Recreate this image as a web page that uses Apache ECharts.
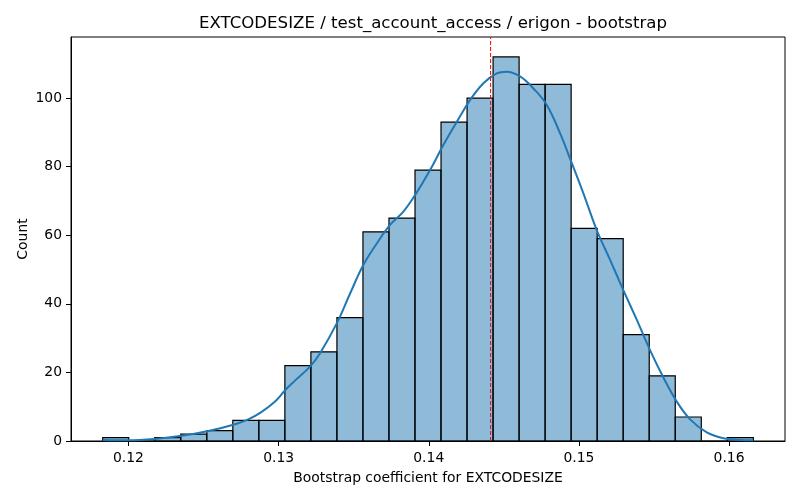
<!DOCTYPE html>
<html>
<head>
<meta charset="utf-8">
<script src="https://cdn.jsdelivr.net/npm/echarts@6/dist/echarts.min.js"></script>
<style>
  html, body { margin: 0; padding: 0; background: #fff; }
  #chart { width: 800px; height: 500px; }
</style>
</head>
<body>
<div id="chart"></div>
<script>
// histogram bins
var binStart = 0.118281;
var binWidth = 0.0017336;
var binCounts = [1, 0, 1, 2, 3, 6, 6, 22, 26, 36, 61, 65, 79, 93, 100, 112, 104, 104, 62, 59, 31, 19, 7, 0, 1];

// kde curve samples
var kdeX = [0.11828, 0.11997, 0.12177, 0.12354, 0.12532, 0.12710, 0.12798, 0.12887, 0.12976, 0.13043,
            0.13109, 0.13209, 0.13276, 0.13387, 0.13476, 0.13564, 0.13654, 0.13742, 0.13831, 0.13909,
            0.14009, 0.14097, 0.14187, 0.14275, 0.14364, 0.14453, 0.14520, 0.14608, 0.14697, 0.14786,
            0.14875, 0.14953, 0.15030, 0.15119, 0.15208, 0.15296, 0.15386, 0.15474, 0.15563, 0.15652,
            0.15741, 0.15852, 0.15963, 0.16074, 0.16162];
var kdeY = [0.3, 0.2, 0.6, 1.5, 2.9, 4.9, 6.3, 8.5, 11.5, 14.8,
            17.6, 21.7, 25.6, 34.3, 43, 51.3, 57.6, 63, 66.9, 71.7,
            79, 86.3, 93.1, 99.4, 104.3, 107.2, 107.7, 106.3, 102.8, 98,
            89.7, 81, 72.2, 61.5, 52.8, 44, 35.3, 26.5, 18.5, 11.5,
            6.3, 2.5, 0.8, 0.3, 0.2];

// bootstrap point estimate (red dashed line)
var meanValue = 0.14412;
var xTicks = [0.12, 0.13, 0.14, 0.15, 0.16];
var yTicks = [0, 20, 40, 60, 80, 100];
var yMax = 117.8;

var font = 'DejaVu Sans';

var histData = [];
for (var i = 0; i < binCounts.length; i++) {
	var x0 = binStart + i * binWidth;
	histData.push([x0, x0 + binWidth, binCounts[i]]);
}
var kdeData = [];
for (var j = 0; j < kdeX.length; j++) {
	kdeData.push([kdeX[j], kdeY[j]]);
}

var chart = echarts.init(document.getElementById('chart'));
chart.setOption({
	animation: false,
	title: {
		text: 'EXTCODESIZE / test_account_access / erigon - bootstrap',
		left: 428,
		textAlign: 'center',
		top: 10,
		textStyle: { fontFamily: font, fontSize: 16.6, fontWeight: 'normal', color: '#000' }
	},
	grid: {
		left: 71, right: 15, top: 37, bottom: 59,
		show: true, borderColor: '#000', borderWidth: 1
	},
	xAxis: {
		type: 'value',
		min: 0.11617,
		max: 0.16373,
		name: 'Bootstrap coefficient for EXTCODESIZE',
		nameLocation: 'middle',
		nameGap: 30,
		nameMoveOverlap: false,
		nameTextStyle: { fontFamily: font, fontSize: 13.9, color: '#000' },
		splitLine: { show: false },
		axisLine: { show: true, lineStyle: { color: '#000', width: 1 } },
		axisTick: { show: true, length: 5, customValues: xTicks, lineStyle: { color: '#000' } },
		axisLabel: {
			customValues: xTicks,
			margin: 10,
			fontFamily: font, fontSize: 13.9, color: '#000',
			formatter: function (v) { return String(+v.toFixed(2)); }
		}
	},
	yAxis: {
		type: 'value',
		min: 0,
		max: yMax,
		name: 'Count',
		nameLocation: 'middle',
		nameGap: 41,
		nameMoveOverlap: false,
		nameTextStyle: { fontFamily: font, fontSize: 13.9, color: '#000' },
		splitLine: { show: false },
		axisLine: { show: true, lineStyle: { color: '#000', width: 1 } },
		axisTick: { show: true, length: 5, customValues: yTicks, lineStyle: { color: '#000' } },
		axisLabel: {
			customValues: yTicks,
			margin: 9,
			fontFamily: font, fontSize: 13.9, color: '#000'
		}
	},
	series: [
		{
			type: 'custom',
			data: histData,
			renderItem: function (params, api) {
				var p0 = api.coord([api.value(0), 0]);
				var p1 = api.coord([api.value(1), api.value(2)]);
				return {
					type: 'rect',
					shape: { x: p0[0], y: p1[1], width: p1[0] - p0[0], height: p0[1] - p1[1] },
					style: { fill: 'rgba(31,119,180,0.5)', stroke: '#000', lineWidth: 1.2 }
				};
			},
			encode: { x: [0, 1], y: 2 },
			z: 2
		},
		{
			type: 'line',
			data: kdeData,
			smooth: 0.4,
			showSymbol: false,
			lineStyle: { color: '#1f77b4', width: 2 },
			z: 3
		},
		{
			type: 'line',
			data: [[meanValue, 0], [meanValue, yMax]],
			showSymbol: false,
			lineStyle: { color: '#ff0000', type: [4, 2], width: 1 },
			z: 4
		}
	]
});
</script>
</body>
</html>
